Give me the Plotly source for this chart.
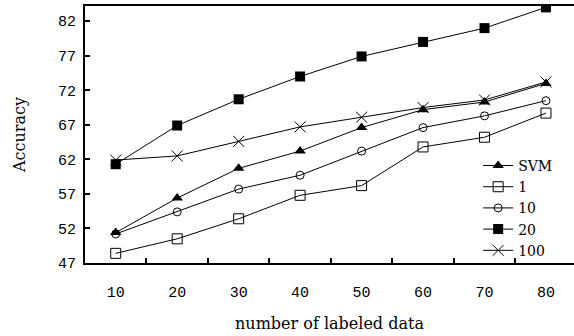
import plotly.graph_objects as go

categories = ["10", "20", "30", "40", "50", "60", "70", "80"]
series_names = ["SVM", "1", "10", "20", "100"]
svm = [51.4, 56.4, 60.7, 63.2, 66.6, 69.2, 70.3, 73.0]
s1 = [48.4, 50.5, 53.4, 56.8, 58.2, 63.8, 65.2, 68.7]
s10 = [51.2, 54.4, 57.7, 59.7, 63.2, 66.6, 68.3, 70.5]
s20 = [61.3, 66.9, 70.7, 74.0, 76.9, 79.0, 81.0, 84.0]
s100 = [61.9, 62.5, 64.6, 66.7, 68.1, 69.5, 70.6, 73.2]
y_ticks = [47, 52, 57, 62, 67, 72, 77, 82]

values = [svm, s1, s10, s20, s100]
markers = [
    dict(symbol="triangle-up", size=10, color="black"),
    dict(symbol="square-open", size=10, color="black", line=dict(width=1)),
    dict(symbol="circle-open", size=8, color="black", line=dict(width=1)),
    dict(symbol="square", size=10, color="black"),
    dict(symbol="x-thin-open", size=11, color="black", line=dict(width=1, color="black")),
]

fig = go.Figure()
for name, vals, mk in zip(series_names, values, markers):
    fig.add_trace(go.Scatter(
        x=categories, y=vals, name=name, mode="lines+markers",
        line=dict(color="black", width=1), marker=mk,
    ))

font = "DejaVu Serif"
tickfont = dict(family="Liberation Mono", size=15, color="black")
fig.update_layout(
    width=574, height=336,
    margin=dict(l=85, r=0, t=6, b=73, autoexpand=False),
    paper_bgcolor="white", plot_bgcolor="white",
    font=dict(family=font, size=14, color="black"),
    showlegend=True,
    legend=dict(
        x=0.804, y=0.44, xanchor="left", yanchor="top",
        bgcolor="rgba(0,0,0,0)", font=dict(family=font, size=14),
        tracegroupgap=0, itemsizing="trace",
    ),
    xaxis=dict(
        type="category", range=[-0.5, 7.456], automargin=False,
        showline=True, linecolor="black", linewidth=2, mirror=True,
        ticks="inside", ticklen=5, tickcolor="black", tickwidth=2,
        tickson="boundaries", showgrid=False, zeroline=False,
        ticklabelstandoff=14,
        tickfont=tickfont,
        title=dict(text="number of labeled data", standoff=17,
                   font=dict(family=font, size=16)),
    ),
    yaxis=dict(
        range=[47, 84.2], tickvals=y_ticks, automargin=False,
        showline=True, linecolor="black", linewidth=2,
        ticks="inside", ticklen=5, tickcolor="black", tickwidth=2,
        showgrid=False, zeroline=False,
        ticklabelstandoff=4,
        tickfont=tickfont,
        title=dict(text="Accuracy", standoff=28,
                   font=dict(family=font, size=16)),
    ),
)

fig.write_html(
    "out.html",
    config={"displayModeBar": False},
    post_script="document.body.style.margin='0';document.body.style.overflow='hidden';",
)
